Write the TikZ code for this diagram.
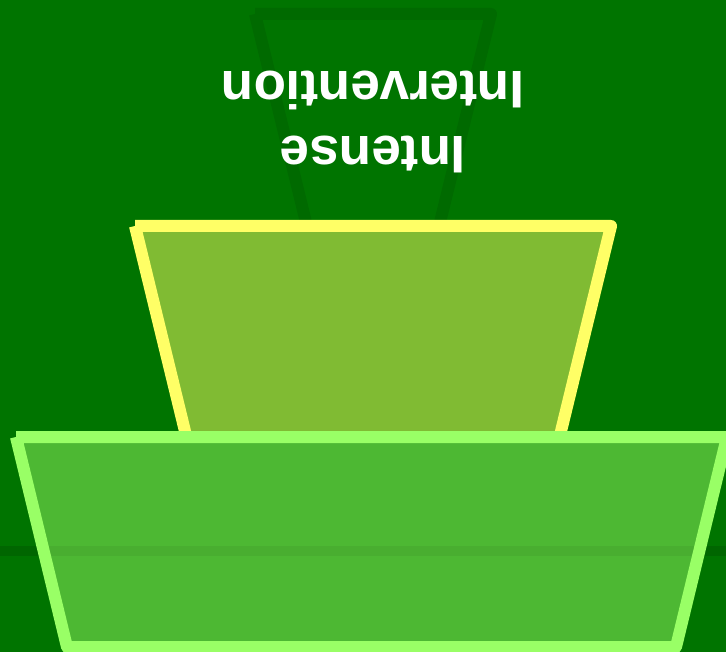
\documentclass[tikz,border=0pt]{standalone}
\usepackage{fontspec}
\setmainfont{Liberation Sans}
\usepackage{xcolor}

\definecolor{bggreen}{HTML}{007400}
\definecolor{topline}{HTML}{006A00}
\definecolor{bandgreen}{HTML}{006600}
\definecolor{midline}{HTML}{FFFF66}
\definecolor{midfill}{HTML}{80BB33}
\definecolor{lowline}{HTML}{99FF66}
\definecolor{lowfill}{HTML}{4DB833}

\tikzset{
  level/.style={line width=12pt, line join=round, line cap=butt},
  label text/.style={text=white, font=\bfseries\fontsize{53}{65}\selectfont, align=center, inner sep=0pt}
}

\begin{document}
\begin{tikzpicture}[x=1pt, y=-1pt]
    % Fond
    \fill[bggreen] (0,0) rectangle (726,652);
    \useasboundingbox (0,0) rectangle (726,652);

    % Bande horizontale
    \fill[bandgreen] (0,546) rectangle (726,556);

    % Niveau du haut (contour seulement)
    \draw[level, topline] (255,14) -- (491,14) -- (421,300) -- (325,300) -- (255,14);
    \node[label text, rotate=180] (intense) at (373,122) {Intense\\Intervention};

    % Niveau du milieu
    \fill[midfill] (135,226) -- (611,226) -- (554,460) -- (192,460) -- cycle;
    \draw[level, midline] (135,226) -- (611,226) -- (554,460) -- (192,460) -- (135,226);

    % Niveau du bas
    \fill[lowfill] (16,437) -- (727,437) -- (676,647) -- (67,647) -- cycle;
    \begin{scope}
        \clip (16,437) -- (727,437) -- (676,647) -- (67,647) -- cycle;
        \fill[black, opacity=0.05] (0,546) rectangle (726,556);
    \end{scope}
    \draw[level, lowline] (16,437) -- (727,437) -- (676,647) -- (67,647) -- (16,437);
\end{tikzpicture}
\end{document}
